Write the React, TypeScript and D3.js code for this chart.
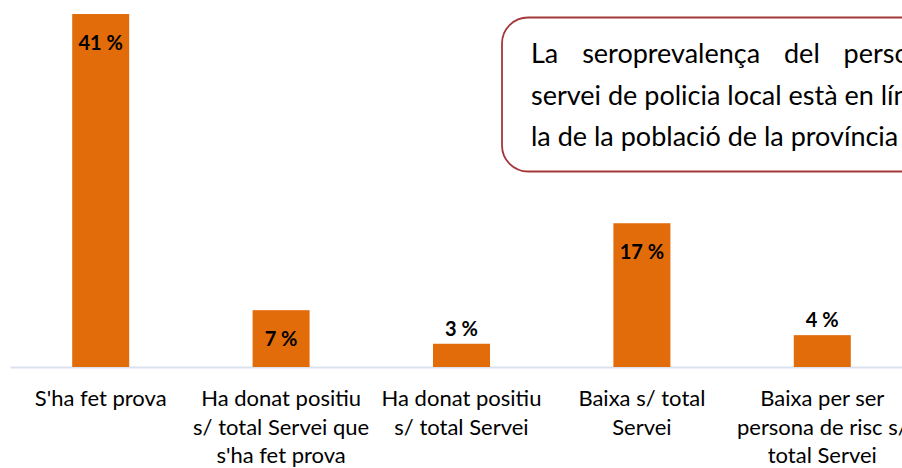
import React, { useEffect, useRef } from 'react';
import * as d3 from 'd3';

// categories (each label split into its printed lines)
const categories = [
  ["S'ha fet prova"],
  ['Ha donat positiu', 's/ total Servei que', "s'ha fet prova"],
  ['Ha donat positiu', 's/ total Servei'],
  ['Baixa s/ total', 'Servei'],
  ['Baixa per ser', 'persona de risc s/', 'total Servei'],
];
// percentages
const values = [41, 6.6, 2.7, 16.7, 3.7];
const noteLines = [
  'La seroprevalença del personal del',
  'servei de policia local està en línia amb',
  'la de la població de la província',
];

const FONT = 'Lato, "Open Sans", sans-serif';

function App() {
  const ref = useRef<SVGSVGElement | null>(null);

  useEffect(() => {
    const width = 902;
    const baseline = 367;

    const svg = d3.select(ref.current);
    svg.selectAll('*').remove();

    const keys = categories.map((c) => c.join(' '));
    const x = d3.scaleBand().domain(keys).range([10.5, 912.5]).paddingInner(0.684).paddingOuter(0.342);
    const y = d3.scaleLinear().domain([0, 42.63]).range([baseline, 0]);

    // axis line
    svg.append('line')
      .attr('x1', 10.5).attr('x2', width)
      .attr('y1', baseline + 0.5).attr('y2', baseline + 0.5)
      .attr('stroke', '#d9e2ee').attr('stroke-width', 2);

    const bars = svg.append('g');
    bars.selectAll('rect')
      .data(values)
      .enter()
      .append('rect')
      .attr('x', (d, i) => x(keys[i]) as number)
      .attr('y', (d) => y(d))
      .attr('width', x.bandwidth())
      .attr('height', (d) => y(0) - y(d))
      .attr('fill', '#e36c0a');

    // value labels: inside end when the bar is tall enough, otherwise above
    bars.selectAll('text')
      .data(values)
      .enter()
      .append('text')
      .text((d) => Math.round(d) + ' %')
      .attr('x', (d, i) => (x(keys[i]) as number) + x.bandwidth() / 2)
      .attr('y', (d) => (y(0) - y(d) > 40 ? y(d) + 36 : y(d) - 8))
      .attr('text-anchor', 'middle')
      .style('font-family', FONT)
      .style('font-weight', 'bold')
      .style('font-size', '20px')
      .style('fill', '#000');

    // category labels
    const cat = svg.append('g');
    categories.forEach((lines, i) => {
      const cx = (x(keys[i]) as number) + x.bandwidth() / 2;
      lines.forEach((ln, j) => {
        cat.append('text')
          .text(ln)
          .attr('x', cx)
          .attr('y', 406 + j * 28.5)
          .attr('text-anchor', 'middle')
          .style('font-family', FONT)
          .style('font-size', '22px')
          .style('fill', '#000');
      });
    });

    // note box
    svg.append('rect')
      .attr('x', 502).attr('y', 17.5)
      .attr('width', 520).attr('height', 154)
      .attr('rx', 26).attr('ry', 26)
      .attr('fill', '#fff')
      .attr('stroke', '#a4373a').attr('stroke-width', 1.8);

    const note = svg.append('g')
      .style('font-family', FONT)
      .style('font-size', '27px')
      .style('fill', '#000');

    // line 2 and 3 as plain text
    const plain = noteLines.slice(1).map((ln, j) =>
      note.append('text').text(ln).attr('x', 531).attr('y', 63 + (j + 1) * 41.5));

    // line 1 justified across the box's inner width
    const target = (plain[0].node() as SVGTextElement).getComputedTextLength() + 18;
    const words = noteLines[0].split(' ');
    const wEls = words.map((w) => note.append('text').text(w).attr('y', 63));
    const widths = wEls.map((t) => (t.node() as SVGTextElement).getComputedTextLength());
    const gap = (target - d3.sum(widths)) / (words.length - 1);
    let cx = 531;
    wEls.forEach((t, i) => {
      t.attr('x', cx);
      cx += widths[i] + gap;
    });
  }, []);

  return (
    <svg ref={ref} width={902} height={468} style={{ display: 'block', position: 'absolute', left: 0, top: 0, background: '#fff' }} />
  );
}

export default App;
